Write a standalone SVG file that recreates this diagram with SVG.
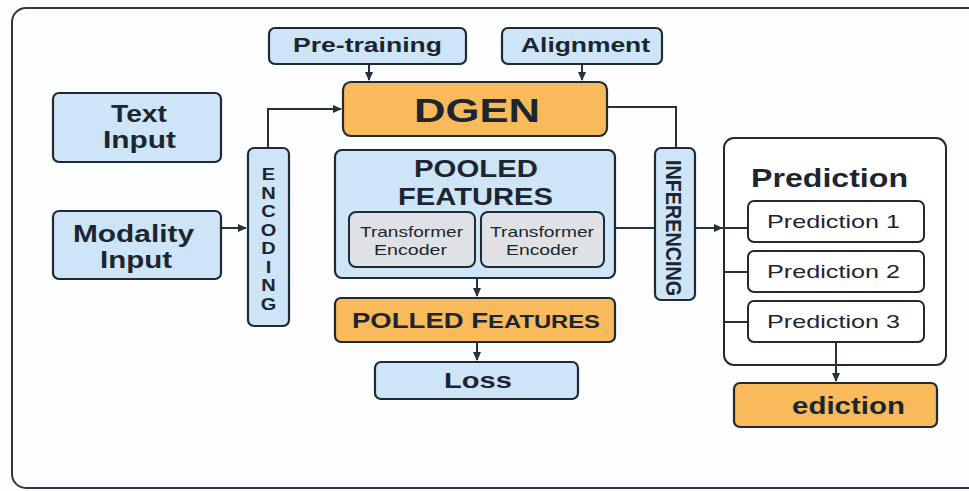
<svg xmlns="http://www.w3.org/2000/svg" width="969" height="491" viewBox="0 0 969 491">
<style>
.blue{fill:#CDE5F7;stroke:#1F2A36;stroke-width:2.2}
.orange{fill:#F8BA5B;stroke:#1F2A36;stroke-width:2.2}
.gray{fill:#DFE1E4;stroke:#1F2A36;stroke-width:2}
.white{fill:#FFFFFF;stroke:#1F2A36;stroke-width:2}
.b{font-family:"Liberation Sans",Arial,sans-serif;font-weight:bold;fill:#1C2631;text-anchor:middle}
.r{font-family:"Liberation Sans",Arial,sans-serif;fill:#1C2631;text-anchor:middle}
.c{fill:none;stroke:#26313C;stroke-width:2}
</style>
<defs>
<marker id="ah" markerWidth="10" markerHeight="10" refX="8" refY="5" orient="auto" markerUnits="userSpaceOnUse">
<path d="M0,1 L9,5 L0,9 z" fill="#26313C"/>
</marker>
</defs>
<rect x="0" y="0" width="969" height="491" fill="#FCFDFD"/>
<rect x="12" y="8" width="990" height="480" rx="14" fill="#FCFDFD" stroke="#2E3740" stroke-width="2"/>

<g id="pretraining">
<rect class="blue" x="269" y="28" width="197" height="36" rx="6"/>
<text class="b" x="367.5" y="52" font-size="21" textLength="149" lengthAdjust="spacingAndGlyphs">Pre-training</text>
</g>
<g id="alignment">
<rect class="blue" x="502" y="28" width="160" height="36" rx="6"/>
<text class="b" x="585.5" y="52" font-size="21" textLength="129" lengthAdjust="spacingAndGlyphs">Alignment</text>
</g>
<g id="dgen">
<rect class="orange" x="343" y="82" width="264" height="54" rx="8"/>
<text class="b" x="477" y="122" font-size="34" textLength="126" lengthAdjust="spacingAndGlyphs">DGEN</text>
</g>
<g id="text-input">
<rect class="blue" x="53" y="93" width="168" height="69" rx="6"/>
<text class="b" x="139" y="122" font-size="23" textLength="56" lengthAdjust="spacingAndGlyphs">Text</text>
<text class="b" x="139.5" y="148" font-size="23" textLength="73" lengthAdjust="spacingAndGlyphs">Input</text>
</g>
<g id="modality-input">
<rect class="blue" x="53" y="211" width="168" height="68" rx="6"/>
<text class="b" x="133.5" y="242" font-size="23" textLength="121" lengthAdjust="spacingAndGlyphs">Modality</text>
<text class="b" x="136" y="268" font-size="23" textLength="72" lengthAdjust="spacingAndGlyphs">Input</text>
</g>
<g id="encoding">
<rect class="blue" x="248" y="148" width="41" height="178" rx="6"/>
<g transform="translate(268.5,0) scale(1.25,1)">
<text class="b" font-size="16" x="0"><tspan x="0" y="180">E</tspan><tspan x="0" y="198.6">N</tspan><tspan x="0" y="217.1">C</tspan><tspan x="0" y="235.7">O</tspan><tspan x="0" y="254.3">D</tspan><tspan x="0" y="272.9">I</tspan><tspan x="0" y="291.4">N</tspan><tspan x="0" y="310">G</tspan></text>
</g>
</g>
<g id="pooled-features">
<rect class="blue" x="335" y="150" width="280" height="128" rx="7"/>
<text class="b" x="476" y="177" font-size="23" textLength="124" lengthAdjust="spacingAndGlyphs">POOLED</text>
<text class="b" x="475.5" y="205" font-size="23" textLength="155" lengthAdjust="spacingAndGlyphs">FEATURES</text>
<g id="transformer-encoder-1">
<rect class="gray" x="349" y="212" width="126" height="55" rx="7"/>
<text class="r" x="411.5" y="237" font-size="15" textLength="103" lengthAdjust="spacingAndGlyphs">Transformer</text>
<text class="r" x="410.5" y="255" font-size="15" textLength="73" lengthAdjust="spacingAndGlyphs">Encoder</text>
</g>
<g id="transformer-encoder-2">
<rect class="gray" x="481" y="212" width="123" height="55" rx="7"/>
<text class="r" x="542" y="237" font-size="15" textLength="104" lengthAdjust="spacingAndGlyphs">Transformer</text>
<text class="r" x="542" y="255" font-size="15" textLength="72" lengthAdjust="spacingAndGlyphs">Encoder</text>
</g>
</g>
<g id="polled-features">
<rect class="orange" x="335" y="298" width="280" height="44" rx="6"/>
<text class="b" x="476" y="328" font-size="22" textLength="248" lengthAdjust="spacingAndGlyphs">POLLED F<tspan font-size="19">EATURES</tspan></text>
</g>
<g id="loss">
<rect class="blue" x="375" y="362" width="203" height="37" rx="6"/>
<text class="b" x="478" y="388" font-size="22" textLength="68" lengthAdjust="spacingAndGlyphs">Loss</text>
</g>
<g id="inferencing">
<rect class="blue" x="655" y="148" width="40" height="152" rx="6"/>
<text class="b" font-size="22" transform="translate(666,228) rotate(90)" x="0" y="0" textLength="136" lengthAdjust="spacingAndGlyphs">INFERENCING</text>
</g>
<g id="prediction">
<rect class="white" x="724" y="138" width="222" height="227" rx="10"/>
<text class="b" x="829.5" y="187" font-size="25" textLength="157" lengthAdjust="spacingAndGlyphs">Prediction</text>
<g id="prediction-1">
<rect class="white" x="748" y="201" width="176" height="41" rx="6"/>
<text class="r" x="833.5" y="228" font-size="19" textLength="133" lengthAdjust="spacingAndGlyphs">Prediction 1</text>
</g>
<g id="prediction-2">
<rect class="white" x="748" y="251" width="176" height="41" rx="6"/>
<text class="r" x="833.5" y="278" font-size="19" textLength="133" lengthAdjust="spacingAndGlyphs">Prediction 2</text>
</g>
<g id="prediction-3">
<rect class="white" x="748" y="301" width="176" height="41" rx="6"/>
<text class="r" x="833.5" y="328" font-size="19" textLength="133" lengthAdjust="spacingAndGlyphs">Prediction 3</text>
</g>
</g>
<g id="ediction">
<rect class="orange" x="734" y="383" width="203" height="44" rx="6"/>
<text class="b" x="848.5" y="414" font-size="23" textLength="113" lengthAdjust="spacingAndGlyphs">ediction</text>
</g>

<g id="connectors">
<path class="c" d="M369,65 V80" marker-end="url(#ah)"/>
<path class="c" d="M582,65 V80" marker-end="url(#ah)"/>
<path class="c" d="M268,147 V109 H341" marker-end="url(#ah)"/>
<path class="c" d="M222,228 H246" marker-end="url(#ah)"/>
<path class="c" d="M608,107 H676 V147"/>
<path class="c" d="M616,228 H654"/>
<path class="c" d="M696,228 H722" marker-end="url(#ah)"/>
<path class="c" d="M722,228 H747"/>
<path class="c" d="M725,272 H747"/>
<path class="c" d="M725,322 H747"/>
<path class="c" d="M477,279 V296" marker-end="url(#ah)"/>
<path class="c" d="M477,343 V360" marker-end="url(#ah)"/>
<path class="c" d="M836,343 V381" marker-end="url(#ah)"/>
</g>
</svg>
